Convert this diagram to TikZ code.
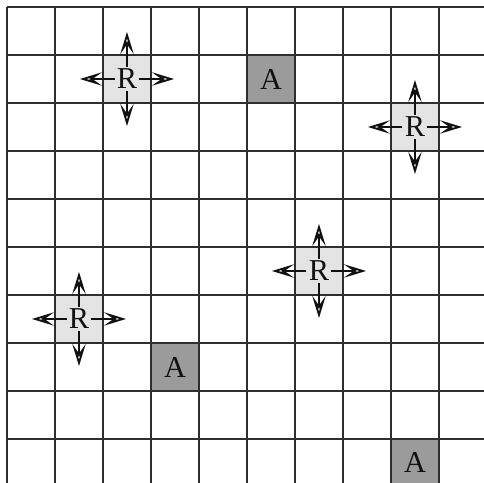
\documentclass[tikz,border=0pt]{standalone}
\usepackage{fontspec}
\setmainfont{Liberation Serif}
\usetikzlibrary{arrows.meta,calc,positioning}
\definecolor{gridline}{HTML}{2E2E2E}
\definecolor{robotfill}{HTML}{E4E4E4}
\definecolor{agentfill}{HTML}{9B9B9B}
\definecolor{ink}{HTML}{111111}

\begin{document}
\begin{tikzpicture}[
  font=\fontsize{18}{20}\selectfont,
  gridedge/.style={draw=gridline,line width=0.9pt},
  cellbox/.style={minimum size=1cm,inner sep=0pt,outer sep=0pt},
  robotcell/.style={cellbox,fill=robotfill},
  agentcell/.style={cellbox,fill=agentfill},
  cellmark/.style={inner sep=1.2pt,text=ink},
  move/.style={-{Stealth[open,length=4.6mm,width=2.8mm,inset=2mm,
               line width=1.1pt]},line width=0.7pt,draw=ink}
]

\useasboundingbox (-0.146,0.146) rectangle (9.938,-9.917);

% Shaded cells.
\node[robotcell] (rc1) at (2.5,-1.5) {};
\node[robotcell] (rc2) at (8.5,-2.5) {};
\node[robotcell] (rc3) at (6.5,-5.5) {};
\node[robotcell] (rc4) at (1.5,-6.5) {};
\node[agentcell] (ac1) at (5.5,-1.5) {};
\node[agentcell] (ac2) at (3.5,-7.5) {};
\node[agentcell] (ac3) at (8.5,-9.5) {};

% Grid, open at the right and bottom.
\foreach \k in {0,...,9} {
  \draw[gridedge] (\k,0) -- (\k,-9.917);
  \draw[gridedge] (0,-\k) -- (9.938,-\k);
}

% Agents.
\node[cellmark] (a1) at (ac1) {A};
\node[cellmark] (a2) at (ac2) {A};
\node[cellmark] (a3) at (ac3) {A};

% Robots and their four moves.
\node[cellmark] (r1) at (rc1) {R};
\node[cellmark] (r2) at (rc2) {R};
\node[cellmark] (r3) at (rc3) {R};
\node[cellmark] (r4) at (rc4) {R};
\foreach \r in {r1,r2,r3,r4} {
  \coordinate (\r n) at ($(\r)+(0,0.98)$);
  \coordinate (\r s) at ($(\r)+(0,-0.98)$);
  \coordinate (\r w) at ($(\r)+(-0.98,0)$);
  \coordinate (\r e) at ($(\r)+(0.98,0)$);
  \draw[move] (\r) -- (\r n);
  \draw[move] (\r) -- (\r s);
  \draw[move] (\r) -- (\r w);
  \draw[move] (\r) -- (\r e);
}

\end{tikzpicture}
\end{document}
